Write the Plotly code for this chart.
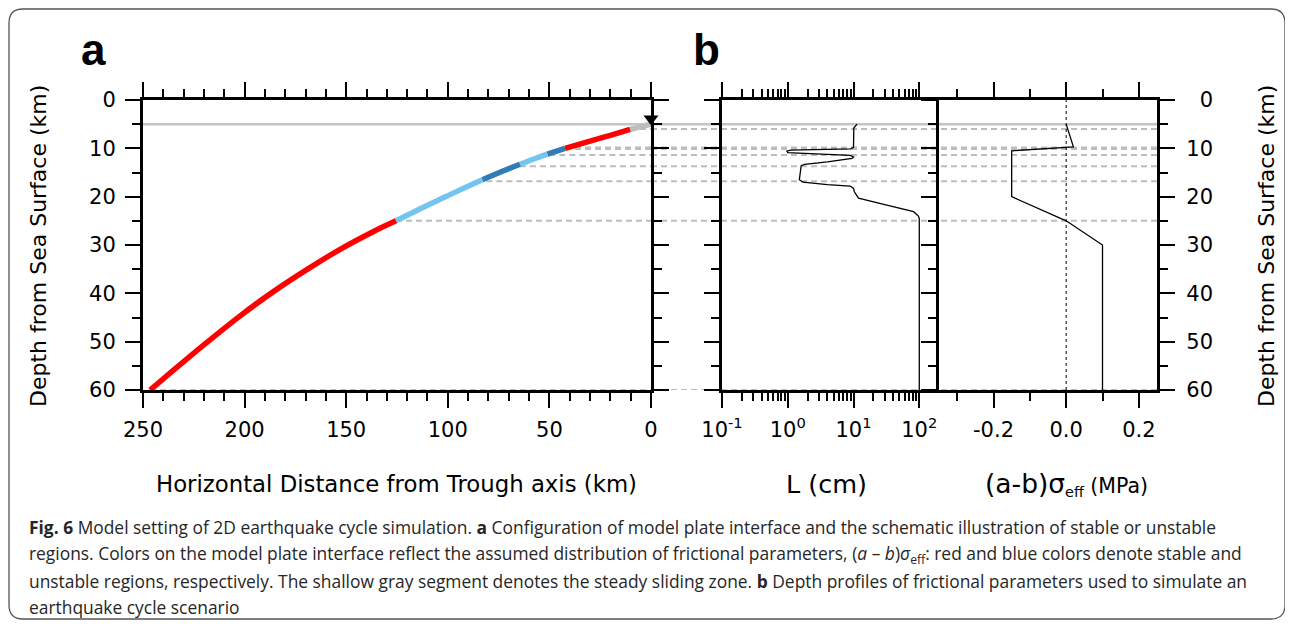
import plotly.graph_objects as go

# The page shows the figure with an 8 px body margin, so the figure is 8 px
# smaller than the window and coordinates below are window pixels.
OFF = 8
W, H = 1293 - OFF, 624 - OFF

# ---------------- data ----------------
# Panel a: model plate interface (horizontal distance from trough axis vs depth)
dist_km = [0, 5, 10.3, 20, 30, 42.3, 51.0, 57, 64.5, 74, 83.0, 95, 104, 115, 125.5,
           137, 153, 169, 186, 202, 219, 235, 246.5]
depth_km = [5.0, 5.5, 6.1, 7.3, 8.5, 10.0, 11.2, 12.1, 13.3, 14.9, 16.5, 18.8, 20.6, 22.8, 25.0,
            27.3, 30.9, 35.0, 39.7, 44.6, 50.3, 55.9, 60.0]
seg_bounds = [0, 10.3, 42.3, 51.0, 64.5, 83.0, 125.5, 246.5]
seg_colors = ["#bdbdbd", "#ff0000", "#2f7cb6", "#73c5f1", "#2f7cb6", "#73c5f1", "#ff0000"]

# boundaries of frictional regions (dashed lines)
bnd_dist = [10.3, 42.3, 50.0, 64.5, 81.0, 125.5, 246.5]
bnd_depth = [6.0, 10.0, 11.4, 13.7, 16.8, 25.0, 60.0]
bnd_width = [2, 3.5, 2, 2, 2, 2, 2]
seafloor_depth = 5.0
trough_marker = (0, 3.9)

# Panel b1: characteristic distance L (cm)
L_depth = [5.0, 5.8, 9.8, 10.1, 10.35, 10.6, 10.9, 11.25, 11.45, 11.8, 12.1, 12.8, 13.3, 13.6,
           16.5, 17.0, 17.5, 17.8, 18.3, 19.0, 20.3, 21.7, 23.1, 24.0, 24.5, 60.0]
L_cm = [11.3, 10.1, 10.0, 9.0, 1.1, 0.97, 1.0, 4.0, 8.9, 10.0, 9.5, 4.0, 1.8, 1.6,
        1.5, 1.7, 4.0, 8.9, 10.0, 10.3, 11.9, 31, 82, 97, 100, 100]

# Panel b2: (a-b) sigma_eff (MPa)
ab_depth = [5.0, 9.7, 10.5, 20.0, 25.0, 30.0, 60.0]
ab_mpa = [0.0, 0.02, -0.15, -0.15, 0.0, 0.1, 0.1]

depth_ticks = [0, 10, 20, 30, 40, 50, 60]
dist_ticks = [0, 50, 100, 150, 200, 250]
L_ticks = [0.1, 1, 10, 100]
L_ticktext = ["10<sup>-1</sup>", "10<sup>0</sup>", "10<sup>1</sup>", "10<sup>2</sup>"]
L_minor = [0.2, 0.3, 0.4, 0.5, 0.6, 0.7, 0.8, 0.9, 2, 3, 4, 5, 6, 7, 8, 9,
           20, 30, 40, 50, 60, 70, 80, 90, 200]
ab_ticks = [-0.2, 0.0, 0.2]
ab_ticktext = ["-0.2", "0.0", "0.2"]
ab_minor = [-0.3, -0.1, 0.1]

caption = [
    "<b>Fig. 6</b> Model setting of 2D earthquake cycle simulation. <b>a</b> Configuration of model plate interface and the schematic illustration of stable or unstable",
    "regions. Colors on the model plate interface reflect the assumed distribution of frictional parameters, (<i>a</i> – <i>b</i>)<i>σ</i><sub>eff</sub>: red and blue colors denote stable and",
    "unstable regions, respectively. The shallow gray segment denotes the steady sliding zone. <b>b</b> Depth profiles of frictional parameters used to simulate an",
    "earthquake cycle scenario",
]

# ---------------- layout geometry ----------------
def px(x):
    return (x - OFF) / W

def py(y):
    return 1 - (y - OFF) / H

dom_a = [px(143), px(651)]
dom_b1 = [px(722), px(939)]
dom_b2 = [px(939), px(1157)]
dom_y = [py(390), py(100)]

FONT = "DejaVu Sans, Liberation Sans, Arial, sans-serif"
HFONT = "Liberation Sans, Arial, Helvetica, sans-serif"
TICKFONT = dict(family=FONT, size=21, color="black")

fig = go.Figure()

# Panel a curve segments
for i, col in enumerate(seg_colors):
    lo, hi = seg_bounds[i], seg_bounds[i + 1]
    xs = [d for d in dist_km if lo <= d <= hi]
    ys = [z for d, z in zip(dist_km, depth_km) if lo <= d <= hi]
    fig.add_trace(go.Scatter(x=xs, y=ys, mode="lines", line=dict(color=col, width=5.5, shape="spline"),
                             xaxis="x", yaxis="y", showlegend=False, hoverinfo="skip"))

fig.add_trace(go.Scatter(x=[trough_marker[0]], y=[trough_marker[1]], mode="markers",
                         marker=dict(symbol="triangle-down", size=13, color="black"),
                         xaxis="x", yaxis="y", cliponaxis=False, showlegend=False))

# Panel b1
fig.add_trace(go.Scatter(x=L_cm, y=L_depth, mode="lines", line=dict(color="black", width=1.3),
                         xaxis="x2", yaxis="y2", showlegend=False))
# Panel b2
fig.add_trace(go.Scatter(x=ab_mpa, y=ab_depth, mode="lines", line=dict(color="black", width=1.3),
                         xaxis="x3", yaxis="y3", showlegend=False))
# dummy trace for right-hand tick labels axis
fig.add_trace(go.Scatter(x=[0], y=[30], mode="markers", marker=dict(opacity=0), xaxis="x3", yaxis="y4",
                         showlegend=False, hoverinfo="skip"))

shapes = []
# sea floor gray solid line across all panels
shapes.append(dict(type="line", xref="paper", yref="y", x0=dom_a[0], x1=dom_b2[1],
                   y0=seafloor_depth, y1=seafloor_depth, line=dict(color="#c4c4c4", width=2.5), layer="below"))
# dashed boundary lines
for d, z, w in zip(bnd_dist, bnd_depth, bnd_width):
    shapes.append(dict(type="line", xref="x", yref="y", x0=d, x1=0, y0=z, y1=z,
                       line=dict(color="#bdbdbd", width=w, dash="6px,4px"), layer="below"))
    shapes.append(dict(type="line", xref="paper", yref="y", x0=dom_a[1], x1=dom_b2[1], y0=z, y1=z,
                       line=dict(color="#bdbdbd", width=w, dash="6px,4px"), layer="below"))
# zero line in b2
shapes.append(dict(type="line", xref="x3", yref="y3 domain", x0=0, x1=0, y0=0, y1=1,
                   line=dict(color="black", width=1, dash="dot"), layer="below"))

# rounded outer border
x0b, x1b, y0b, y1b = px(9), px(1285), py(619), py(9)
rx, ry = 14 / W, 14 / H
path = (f"M {x0b + rx},{y1b} L {x1b - rx},{y1b} Q {x1b},{y1b} {x1b},{y1b - ry} "
        f"L {x1b},{y0b + ry} Q {x1b},{y0b} {x1b - rx},{y0b} "
        f"L {x0b + rx},{y0b} Q {x0b},{y0b} {x0b},{y0b + ry} "
        f"L {x0b},{y1b - ry} Q {x0b},{y1b} {x0b + rx},{y1b} Z")
shapes.append(dict(type="path", xref="paper", yref="paper", path=path,
                   line=dict(color="#555555", width=1.3), layer="below"))

annotations = []
def ann(text, x, y, size, angle=0, xanchor="center", family=FONT, color="black"):
    annotations.append(dict(text=text, x=px(x), y=py(y), xref="paper", yref="paper", showarrow=False,
                            xanchor=xanchor, yanchor="middle", textangle=angle,
                            font=dict(family=family, size=size, color=color), align="left"))

ann("<b>a</b>", 93, 50, 44, family=HFONT)
ann("<b>b</b>", 706, 50, 44, family=HFONT)
ann("Depth from Sea Surface (km)", 38, 246, 22, angle=-90)
ann("Depth from Sea Surface (km)", 1266, 246, 22, angle=-90)
ann("Horizontal Distance from Trough axis (km)", 396, 484, 22.8)
ann("L (cm)", 826, 484, 25.5)
ann('<span style="font-size:26.5px">(a-b)σ</span><sub>eff</sub> (MPa)', 1066, 484, 20.5)

cap_y = [527, 554, 581, 607]
for t, yy in zip(caption, cap_y):
    ann(t, 27, yy, 17.4, xanchor="left", family="Open Sans, Noto Sans, sans-serif", color="#262626")

common = dict(showline=True, linewidth=3, linecolor="black", ticks="outside",
              ticklen=15, tickwidth=1.5, tickcolor="black", showgrid=False, zeroline=False,
              tickfont=TICKFONT, automargin=False)
minor_common = dict(ticks="outside", ticklen=8, tickwidth=1.5, tickcolor="black", showgrid=False)

fig.update_layout(
    width=W, height=H, margin=dict(l=0, r=0, t=0, b=0, autoexpand=False),
    paper_bgcolor="white", plot_bgcolor="rgba(0,0,0,0)",
    shapes=shapes, annotations=annotations, showlegend=False,
    xaxis=dict(domain=dom_a, range=[250, 0], anchor="y", tickvals=dist_ticks, mirror="ticks",
               minor=dict(dtick=10, **minor_common), ticklabelstandoff=4, **common),
    yaxis=dict(domain=dom_y, range=[60, 0], anchor="x", tickvals=depth_ticks, mirror="ticks",
               minor=dict(dtick=5, **minor_common), ticklabelstandoff=5, **common),
    xaxis2=dict(domain=dom_b1, type="log", range=[-1, 2.3], anchor="y2", tickvals=L_ticks, mirror="ticks",
                ticktext=L_ticktext, minor=dict(tickvals=L_minor, **minor_common), ticklabelstandoff=4, **common),
    yaxis2=dict(domain=dom_y, range=[60, 0], anchor="x2", tickvals=depth_ticks, showticklabels=False,
                mirror=False, minor=dict(dtick=5, **minor_common), **common),
    xaxis3=dict(domain=dom_b2, range=[-0.35, 0.25], anchor="y3", tickvals=ab_ticks, mirror="ticks",
                ticktext=ab_ticktext, minor=dict(tickvals=ab_minor, **minor_common),
                ticklabelstandoff=4, **common),
    yaxis3=dict(domain=dom_y, range=[60, 0], anchor="x3", tickvals=depth_ticks, showticklabels=False,
                mirror="ticks", minor=dict(dtick=5, **minor_common), **common),
    yaxis4=dict(overlaying="y3", anchor="free", position=px(1213), side="left", range=[60, 0],
                tickvals=depth_ticks, showline=False, ticks="", showgrid=False, zeroline=False,
                tickfont=TICKFONT, automargin=False),
)

fig.write_html("out.html")
